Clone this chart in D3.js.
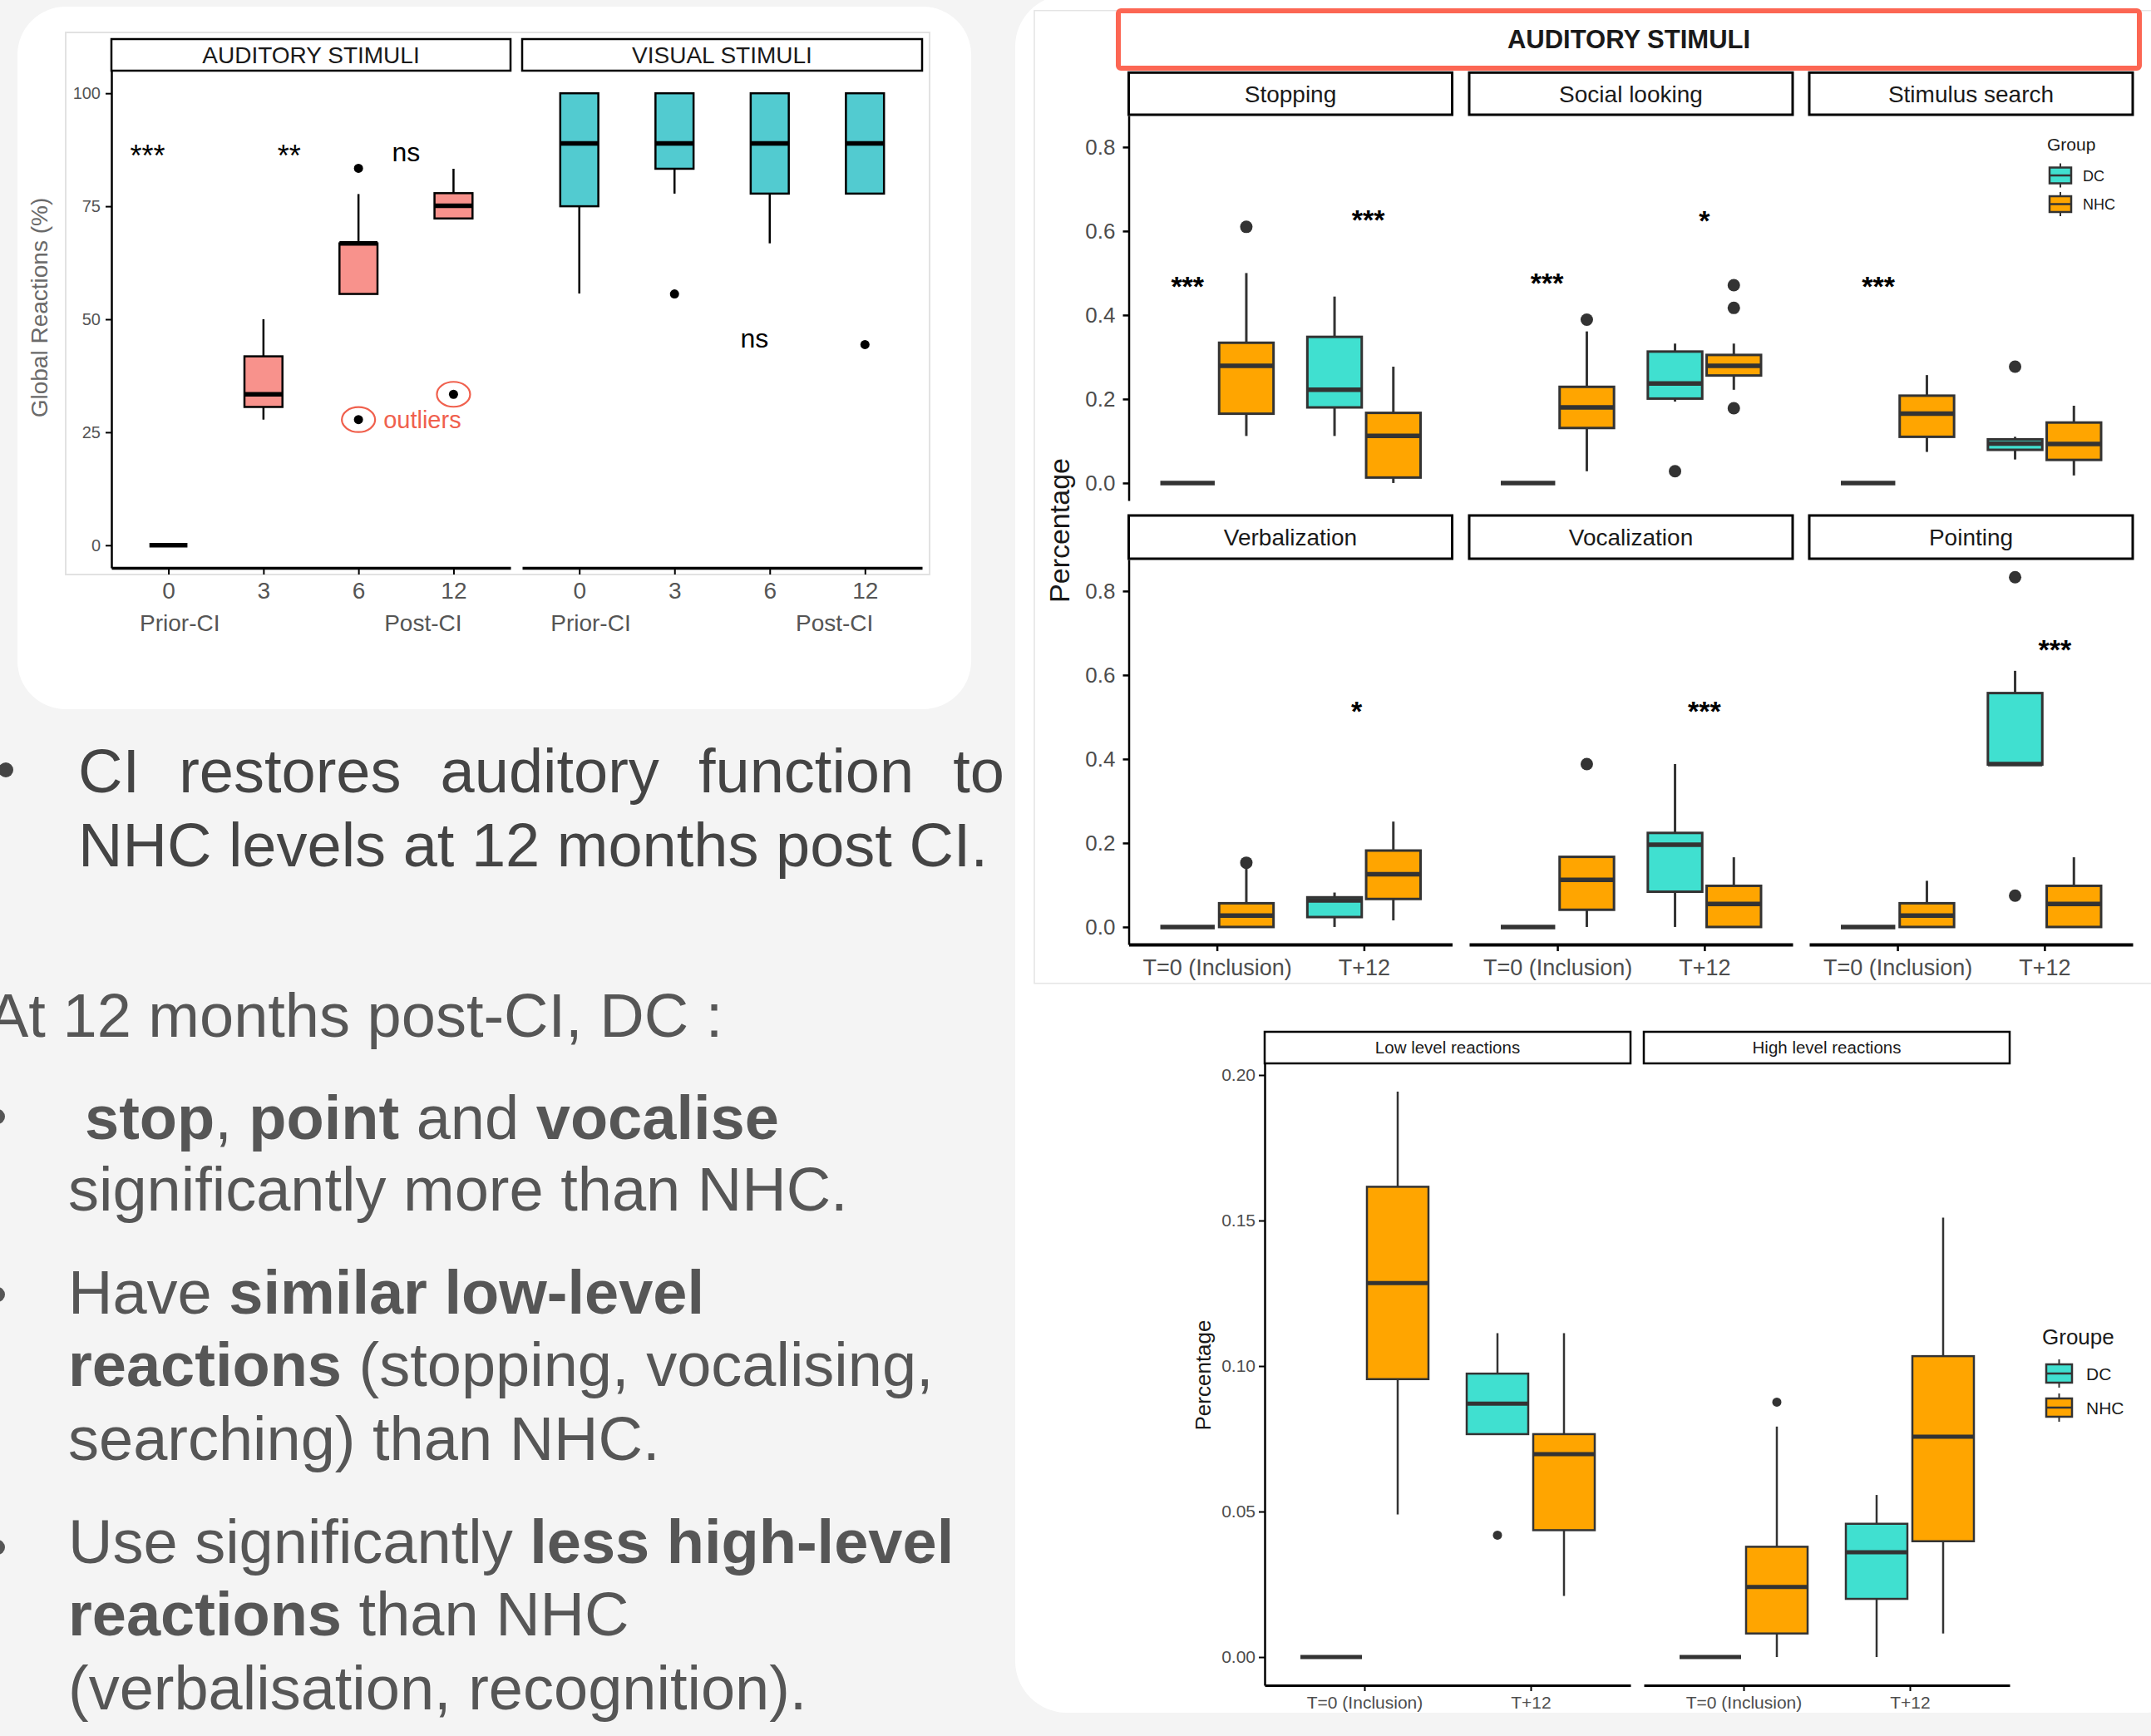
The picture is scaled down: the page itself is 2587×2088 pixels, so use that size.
<!DOCTYPE html>
<html><head><meta charset="utf-8">
<script src="https://cdn.jsdelivr.net/npm/d3@7/dist/d3.min.js"></script>
<style>
html,body{margin:0;padding:0;background:#f4f4f4;}
svg{display:block;font-family:"Liberation Sans",Arial,sans-serif;}
</style></head><body>
<svg id="slide" width="2587" height="2088"></svg>
<script>
'use strict';
// ---------- data ----------
// boxes: [lower whisker, Q1, median, Q3, upper whisker]
var leftCats = ['0','3','6','12'];
var leftPanels = ['AUDITORY STIMULI','VISUAL STIMULI'];
var leftTicks = [0,25,50,75,100];
var auditoryBoxes = [[0,0,0,0,0],[27.8,30.6,33.4,41.8,50],[55.6,55.6,66.8,66.8,77.7],[72.3,72.3,75.1,77.9,83.3]];
var auditoryOutliers = [[],[],[83.4,27.8],[33.4]];
var visualBoxes = [[55.7,75,88.9,100,100],[77.8,83.3,88.9,100,100],[66.8,77.8,88.9,100,100],[77.8,77.8,88.9,100,100]];
var visualOutliers = [[],[55.6],[],[44.4]];
var auditorySig = [['***',-0.22,87.7],['**',1.27,87.7],['ns',2.5,86.5]];
var visualSig = [['ns',1.84,45.3]];
var circledOutliers = [[2,27.8],[3,33.4]];

var facetNames = ['Stopping','Social looking','Stimulus search','Verbalization','Vocalization','Pointing'];
var timeLabels = ['T=0 (Inclusion)','T+12'];
var groups = ['DC','NHC'];
var groupColors = ['#40E0D0','#FFA500'];
var facetTicks = [0,0.2,0.4,0.6,0.8];
// order of boxes: DC T=0, NHC T=0, DC T+12, NHC T+12
var stoppingBoxes = [[0,0,0,0,0],[0.112,0.165,0.279,0.334,0.500],[0.112,0.180,0.222,0.348,0.444],[0,0.013,0.112,0.167,0.277]];
var stoppingOut = [[],[0.610],[],[]];
var socialBoxes = [[0,0,0,0,0],[0.028,0.131,0.180,0.229,0.361],[0.194,0.201,0.237,0.313,0.332],[0.222,0.256,0.279,0.305,0.332]];
var socialOut = [[],[0.389],[0.028],[0.471,0.417,0.178]];
var searchBoxes = [[0,0,0,0,0],[0.074,0.110,0.165,0.208,0.257],[0.056,0.079,0.094,0.104,0.110],[0.018,0.055,0.093,0.144,0.184]];
var searchOut = [[],[],[0.277],[]];
var verbalBoxes = [[0,0,0,0,0],[0,0,0.027,0.0565,0.14],[0,0.0236,0.063,0.0706,0.082],[0.0157,0.0667,0.1255,0.182,0.251]];
var verbalOut = [[],[0.153],[],[]];
var vocalBoxes = [[0,0,0,0,0],[0,0.041,0.112,0.167,0.167],[0,0.084,0.196,0.224,0.388],[0,0,0.055,0.098,0.166]];
var vocalOut = [[],[0.388],[],[]];
var pointBoxes = [[0,0,0,0,0],[0,0,0.027,0.0565,0.110],[0.387,0.387,0.388,0.557,0.610],[0,0,0.055,0.098,0.166]];
var pointOut = [[],[],[0.833,0.0746],[]];
// significance: [label, time position, value]
var stoppingSig = [['***',-0.2,0.4835],['***',1.03,0.642]];
var socialSig = [['***',-0.07,0.493],['*',1.0,0.640]];
var searchSig = [['***',-0.13,0.4835]];
var verbalSig = [['*',0.95,0.529]];
var vocalSig = [['***',1.0,0.529]];
var pointSig = [['***',1.07,0.676]];

var levelNames = ['Low level reactions','High level reactions'];
var levelTicks = [0,0.05,0.10,0.15,0.20];
var lowBoxes = [[0,0,0,0,0],[0.049,0.0955,0.1285,0.1616,0.1943],[0.0766,0.0766,0.0871,0.0974,0.1113],[0.021,0.0436,0.0697,0.0766,0.1113]];
var lowOut = [[],[],[0.0419],[]];
var highBoxes = [[0,0,0,0,0],[0,0.0081,0.0241,0.0379,0.0792],[0,0.02,0.036,0.0458,0.0557],[0.0081,0.0398,0.0757,0.1034,0.151]];
var highOut = [[],[0.0876],[],[]];

var textLines = [
  [['CI restores auditory function to',0]],
  [['NHC levels at 12 months post CI.',0]],
  [['At 12 months post-CI, DC :',0]],
  [['stop',1],[', ',0],['point',1],[' and ',0],['vocalise',1]],
  [['significantly more than NHC.',0]],
  [['Have ',0],['similar low-level',1]],
  [['reactions',1],[' (stopping, vocalising,',0]],
  [['searching) than NHC.',0]],
  [['Use significantly ',0],['less high-level',1]],
  [['reactions',1],[' than NHC',0]],
  [['(verbalisation, recognition).',0]]
];

// ---------- drawing ----------
var svg = d3.select('#slide');
var FONT = '"Liberation Sans",Arial,sans-serif';

svg.append('rect').attr('x',21).attr('y',8).attr('width',1147).attr('height',845).attr('rx',58).attr('fill','#fff');
svg.append('rect').attr('x',1221).attr('y',-6).attr('width',1420).attr('height',2066).attr('rx',62).attr('fill','#fff');

function drawBox(g, xc, w, s, outs, y, st){
  var b = g.append('g');
  b.append('line').attr('x1',xc).attr('x2',xc).attr('y1',y(s[0])).attr('y2',y(s[1]))
    .attr('stroke',st.stroke).attr('stroke-width',st.sw);
  b.append('line').attr('x1',xc).attr('x2',xc).attr('y1',y(s[3])).attr('y2',y(s[4]))
    .attr('stroke',st.stroke).attr('stroke-width',st.sw);
  b.append('rect').attr('x',xc-w/2).attr('y',y(s[3])).attr('width',w).attr('height',y(s[1])-y(s[3]))
    .attr('fill',st.fill).attr('stroke',st.stroke).attr('stroke-width',st.sw);
  b.append('line').attr('x1',xc-w/2).attr('x2',xc+w/2).attr('y1',y(s[2])).attr('y2',y(s[2]))
    .attr('stroke',st.stroke).attr('stroke-width',st.mw);
  outs.forEach(function(o){
    b.append('circle').attr('cx',xc).attr('cy',y(o)).attr('r',st.r).attr('fill',st.stroke);
  });
}

function styleAxis(g, fs, col, sw, dsw){
  g.attr('font-family',FONT).attr('font-size',fs);
  g.selectAll('text').attr('fill',col);
  g.selectAll('.tick line').attr('stroke','#000').attr('stroke-width',sw);
  g.select('.domain').attr('stroke','#000').attr('stroke-width',dsw);
}

function sigText(g, x, yv, label, fs, weight){
  var off = label.indexOf('*') >= 0 ? 0.58*fs : 0.26*fs;
  g.append('text').attr('x',x).attr('y',yv+off).attr('text-anchor','middle')
    .attr('font-size',fs).attr('font-weight',weight).attr('fill','#000').text(label);
}

function strip(g, x, y, w, h, sw, label, fs){
  g.append('rect').attr('x',x).attr('y',y).attr('width',w).attr('height',h)
    .attr('fill','#fff').attr('stroke','#000').attr('stroke-width',sw);
  g.append('text').attr('x',x+w/2).attr('y',y+h/2+0.36*fs).attr('text-anchor','middle')
    .attr('font-size',fs).attr('fill','#1a1a1a').text(label);
}

function legendKey(g, cx, cy, w, h, stem, fill){
  g.append('line').attr('x1',cx).attr('x2',cx).attr('y1',cy-h/2-stem).attr('y2',cy+h/2+stem)
    .attr('stroke','#333').attr('stroke-width',2);
  g.append('rect').attr('x',cx-w/2).attr('y',cy-h/2).attr('width',w).attr('height',h)
    .attr('fill',fill).attr('stroke','#333').attr('stroke-width',2.5);
  g.append('line').attr('x1',cx-w/2).attr('x2',cx+w/2).attr('y1',cy).attr('y2',cy)
    .attr('stroke','#333').attr('stroke-width',2.5);
}

// ===== left chart =====
var L = svg.append('g');
L.append('rect').attr('x',79).attr('y',39).attr('width',1039).attr('height',652)
  .attr('fill','#fff').attr('stroke','#e2e2e2').attr('stroke-width',2);
var leftY = d3.scaleLinear().domain([-5,105]).range([683,85]);
var leftPanelX = [[134,614],[628,1109]];
var leftFill = ['#F8928C','#52CBD0'];
leftPanels.forEach(function(name,p){
  var x0 = leftPanelX[p][0], x1 = leftPanelX[p][1];
  var xs = d3.scalePoint().domain(leftCats).range([x0,x1]).padding(0.6);
  var pos = function(i){ return xs(leftCats[0]) + i*xs.step(); };
  strip(L, x0, 47, x1-x0, 38, 2.5, name, 28);
  var ax = L.append('g').attr('transform','translate(0,683)')
    .call(d3.axisBottom(xs).tickSize(8).tickSizeOuter(0).tickPadding(9));
  styleAxis(ax, 28, '#555', 2, 3.5);
  if(p===0){
    var ay = L.append('g').attr('transform','translate('+x0+',0)')
      .call(d3.axisLeft(leftY).tickValues(leftTicks).tickSize(7).tickSizeOuter(0).tickPadding(6));
    styleAxis(ay, 20, '#555', 2, 2.5);
  }
  L.append('text').attr('x',pos(0.12)).attr('y',759).attr('text-anchor','middle')
    .attr('font-size',28).attr('fill','#555').text('Prior-CI');
  L.append('text').attr('x',pos(2.68)).attr('y',759).attr('text-anchor','middle')
    .attr('font-size',28).attr('fill','#555').text('Post-CI');
  var boxes = p===0 ? auditoryBoxes : visualBoxes;
  var outs = p===0 ? auditoryOutliers : visualOutliers;
  boxes.forEach(function(s,i){
    drawBox(L, xs(leftCats[i]), 0.4*xs.step(), s, outs[i], leftY,
      {fill:leftFill[p], stroke:'#000', sw:2.5, mw:5.5, r:5.5});
  });
  (p===0 ? auditorySig : visualSig).forEach(function(d){
    sigText(L, pos(d[1]), leftY(d[2]), d[0], d[0]==='ns'?32:36, 'normal');
  });
  if(p===0){
    circledOutliers.forEach(function(c){
      L.append('ellipse').attr('cx',pos(c[0])).attr('cy',leftY(c[1])).attr('rx',20).attr('ry',15)
        .attr('fill','none').attr('stroke','#F0604D').attr('stroke-width',2.2);
    });
    L.append('text').attr('x',pos(2)+30).attr('y',leftY(27.8)+10).attr('font-size',29)
      .attr('fill','#F0604D').text('outliers');
  }
});
L.append('text').attr('transform','translate(57,370) rotate(-90)').attr('text-anchor','middle')
  .attr('font-size',28).attr('fill','#6a6a6a').text('Global Reactions (%)');

// ===== top right facet chart =====
var R = svg.append('g');
R.append('rect').attr('x',1244).attr('y',12.7).attr('width',1400).attr('height',1170)
  .attr('fill','none').attr('stroke','#e4e4e4').attr('stroke-width',1.5);
R.append('rect').attr('x',1345).attr('y',13).attr('width',1228).attr('height',69).attr('rx',3)
  .attr('fill','#fff').attr('stroke','#FC6653').attr('stroke-width',6);
R.append('text').attr('x',1959).attr('y',58).attr('text-anchor','middle').attr('font-size',31)
  .attr('font-weight','bold').attr('fill','#1a1a1a').text('AUDITORY STIMULI');

var facetBoxes = [stoppingBoxes, socialBoxes, searchBoxes, verbalBoxes, vocalBoxes, pointBoxes];
var facetOut = [stoppingOut, socialOut, searchOut, verbalOut, vocalOut, pointOut];
var facetSig = [stoppingSig, socialSig, searchSig, verbalSig, vocalSig, pointSig];
var colX = [1357.5, 1767, 2176], colW = 389;
var rowTop = [139, 673], rowH = 463, stripTop = [87.3, 620];
facetNames.forEach(function(name,f){
  var c = f%3, r = Math.floor(f/3);
  var x0 = colX[c];
  var xs = d3.scalePoint().domain(timeLabels).range([x0, x0+colW]).padding(0.6);
  var ys = d3.scaleLinear().domain([-0.0417,0.875]).range([rowTop[r]+rowH, rowTop[r]]);
  strip(R, x0, stripTop[r], colW, rowTop[r]-1-stripTop[r], 3, name, 28);
  if(c===0){
    var ay = R.append('g').attr('transform','translate('+x0+',0)')
      .call(d3.axisLeft(ys).tickValues(facetTicks).tickFormat(d3.format('.1f')).tickSize(7).tickSizeOuter(0).tickPadding(9));
    styleAxis(ay, 26, '#4d4d4d', 2.5, 2.5);
  }
  if(r===1){
    var ax = R.append('g').attr('transform','translate(0,'+(rowTop[r]+rowH)+')')
      .call(d3.axisBottom(xs).tickSize(8).tickSizeOuter(0).tickPadding(10));
    styleAxis(ax, 27, '#4d4d4d', 2.5, 4);
  }
  var step = xs.step();
  facetBoxes[f].forEach(function(s,j){
    var t = j>>1, gi = j&1;
    var xc = xs(timeLabels[t]) + (gi ? 0.2 : -0.2)*step;
    drawBox(R, xc, 0.37*step, s, facetOut[f][j], ys,
      {fill:groupColors[gi], stroke:'#333', sw:3, mw:5.5, r:7.5});
  });
  facetSig[f].forEach(function(d){
    sigText(R, xs(timeLabels[0]) + d[1]*step, ys(d[2]), d[0], 34, 'bold');
  });
});
R.append('text').attr('transform','translate(1286,638) rotate(-90)').attr('text-anchor','middle')
  .attr('font-size',34).attr('fill','#1a1a1a').text('Percentage');
R.append('text').attr('x',2462).attr('y',181).attr('font-size',21).attr('fill','#1a1a1a').text('Group');
groups.forEach(function(gname,i){
  var cy = 211 + i*34.5;
  legendKey(R, 2478, cy, 26, 19, 5, groupColors[i]);
  R.append('text').attr('x',2505).attr('y',cy+6.5).attr('font-size',18).attr('fill','#1a1a1a').text(gname);
});

// ===== bottom chart =====
var B = svg.append('g');
var levelX = [1521, 1977], levelW = 440;
var levelY = d3.scaleLinear().domain([-0.0097,0.204]).range([2027,1279]);
var levelBoxes = [lowBoxes, highBoxes], levelOut = [lowOut, highOut];
levelNames.forEach(function(name,p){
  var x0 = levelX[p];
  var xs = d3.scalePoint().domain(timeLabels).range([x0, x0+levelW]).padding(0.6);
  strip(B, x0, 1241, levelW, 38, 2.5, name, 20.5);
  if(p===0){
    var ay = B.append('g').attr('transform','translate('+x0+',0)')
      .call(d3.axisLeft(levelY).tickValues(levelTicks).tickFormat(d3.format('.2f')).tickSize(7).tickSizeOuter(0).tickPadding(4));
    styleAxis(ay, 21, '#4d4d4d', 2, 2.5);
  }
  var ax = B.append('g').attr('transform','translate(0,2027)')
    .call(d3.axisBottom(xs).tickSize(7).tickSizeOuter(0).tickPadding(6));
  styleAxis(ax, 21, '#4d4d4d', 2, 3);
  var step = xs.step();
  levelBoxes[p].forEach(function(s,j){
    var t = j>>1, gi = j&1;
    var xc = xs(timeLabels[t]) + (gi ? 0.2 : -0.2)*step;
    drawBox(B, xc, 0.37*step, s, levelOut[p][j], levelY,
      {fill:groupColors[gi], stroke:'#333', sw:2.5, mw:5, r:5.5});
  });
});
B.append('text').attr('transform','translate(1456,1654) rotate(-90)').attr('text-anchor','middle')
  .attr('font-size',26).attr('fill','#1a1a1a').text('Percentage');
B.append('text').attr('x',2456).attr('y',1617).attr('font-size',26).attr('fill','#1a1a1a').text('Groupe');
groups.forEach(function(gname,i){
  var cy = 1652 + i*41;
  legendKey(B, 2476.5, cy, 31, 22, 6, groupColors[i]);
  B.append('text').attr('x',2509).attr('y',cy+7.5).attr('font-size',21).attr('fill','#1a1a1a').text(gname);
});

// ===== slide text =====
var T = svg.append('g').attr('font-size',74);
var lineX = [94, 94, -15, 102, 82, 82, 82, 82, 82, 82, 82];
var lineY = [953, 1042, 1246.5, 1369.5, 1456, 1580, 1667, 1755.5, 1880, 1967, 2056];
textLines.forEach(function(parts,i){
  var t = T.append('text').attr('x',lineX[i]).attr('y',lineY[i]).attr('fill', i<2 ? '#444' : '#565656');
  parts.forEach(function(p){
    t.append('tspan').attr('font-weight',p[1]?'bold':'normal').text(p[0]);
  });
  if(i===0){
    var len = t.node().getComputedTextLength();
    var spaces = parts[0][0].split(' ').length-1;
    t.style('word-spacing',((1114-len)/spaces)+'px');
  }
});
[[7,926,'#444'],[-3,1343,'#565656'],[-3,1557,'#565656'],[-3,1861,'#565656']].forEach(function(b){
  T.append('circle').attr('cx',b[0]).attr('cy',b[1]).attr('r',9).attr('fill',b[2]);
});
</script>
</body></html>
